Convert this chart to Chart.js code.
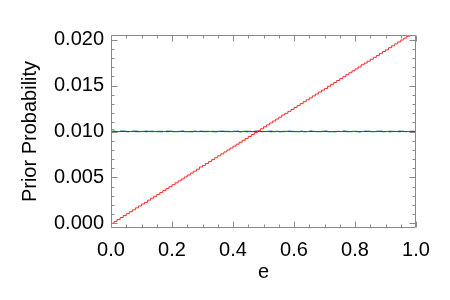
<!DOCTYPE html>
<html><head><meta charset="utf-8">
<script src="https://cdn.jsdelivr.net/npm/chart.js@4/dist/chart.umd.min.js"></script>
<style>html,body{margin:0;padding:0;background:#fff}#wrap{width:450px;height:300px}</style>
</head><body><div id="wrap"><canvas id="c" width="450" height="300"></canvas></div>
<script>
// ---- data ----
const nBins = 100;
const binWidth = 0.01;

const redPrior = [
-0.00020,0.00001,0.00022,0.00043,0.00064,0.00085,0.00106,0.00127,0.00148,0.00169,
0.00190,0.00211,0.00229,0.00253,0.00274,0.00295,0.00316,0.00337,0.00358,0.00379,
0.00400,0.00421,0.00442,0.00463,0.00484,0.00505,0.00526,0.00547,0.00568,0.00589,
0.00614,0.00631,0.00652,0.00673,0.00694,0.00715,0.00736,0.00757,0.00778,0.00799,
0.00820,0.00841,0.00862,0.00883,0.00904,0.00925,0.00946,0.00967,0.00988,0.01009,
0.01030,0.01051,0.01072,0.01093,0.01114,0.01135,0.01156,0.01180,0.01198,0.01219,
0.01240,0.01261,0.01282,0.01303,0.01324,0.01345,0.01366,0.01387,0.01408,0.01429,
0.01450,0.01467,0.01492,0.01513,0.01534,0.01555,0.01576,0.01597,0.01618,0.01639,
0.01660,0.01681,0.01702,0.01726,0.01744,0.01765,0.01786,0.01807,0.01828,0.01849,
0.01870,0.01888,0.01912,0.01933,0.01954,0.01975,0.01996,0.02017,0.02038,0.02059
];
const greenPrior = [
0.01070,0.01022,0.01002,0.00998,0.01003,0.01005,0.00999,0.01001,0.01005,0.00997,
0.01000,0.01003,0.00996,0.01001,0.01005,0.00998,0.00996,0.01003,0.01000,0.00997,
0.01004,0.01001,0.00996,0.00999,0.01003,0.01000,0.00996,0.01001,0.01004,0.00998,
0.01000,0.00997,0.01003,0.01001,0.00996,0.00999,0.01004,0.01000,0.00998,0.01003,
0.00997,0.01001,0.01000,0.00996,0.01003,0.01005,0.00999,0.00997,0.01001,0.01000,
0.01003,0.00998,0.01001,0.00996,0.01000,0.01004,0.00999,0.00997,0.01003,0.01000,
0.00998,0.01001,0.00996,0.01003,0.01000,0.00998,0.01004,0.00999,0.01000,0.00997,
0.01001,0.01003,0.00998,0.00996,0.01001,0.01000,0.00999,0.01004,0.00997,0.01000,
0.01003,0.00998,0.00996,0.01001,0.01000,0.01004,0.00999,0.00997,0.01003,0.01000,
0.00998,0.01001,0.01004,0.00999,0.01000,0.00997,0.01003,0.01000,0.00999,0.01001
];
const bluePrior = [
0.01003,0.01002,0.00998,0.01000,0.01004,0.01002,0.00997,0.01000,0.01002,0.01004,
0.00998,0.01000,0.01004,0.01002,0.00998,0.01000,0.01002,0.00997,0.01000,0.01004,
0.01002,0.00998,0.01000,0.01002,0.01004,0.00998,0.01000,0.00997,0.01002,0.01000,
0.01004,0.01002,0.00998,0.01000,0.01002,0.00997,0.01000,0.01004,0.01002,0.00998,
0.01000,0.01002,0.01004,0.00998,0.01000,0.00997,0.01002,0.01000,0.01004,0.01002,
0.00998,0.01000,0.01002,0.01004,0.00998,0.01000,0.00997,0.01002,0.01000,0.01004,
0.01002,0.00998,0.01000,0.01002,0.00997,0.01000,0.01004,0.01002,0.00998,0.01000,
0.01002,0.01004,0.00998,0.01000,0.00997,0.01002,0.01000,0.01004,0.01002,0.00998,
0.01000,0.01002,0.00997,0.01000,0.01004,0.01002,0.00998,0.01000,0.01002,0.01004,
0.00998,0.01000,0.00997,0.01002,0.01000,0.01004,0.01002,0.00998,0.01000,0.01002
];
const uniformE = [0.0, 1.0];
const uniformPrior = [0.0100, 0.0100];

const xTickValues = [0.0, 0.2, 0.4, 0.6, 0.8, 1.0];
const xTickLabels = ['0.0', '0.2', '0.4', '0.6', '0.8', '1.0'];
const xMinorTicks = [0.05,0.1,0.15,0.25,0.3,0.35,0.45,0.5,0.55,0.65,0.7,0.75,0.85,0.9,0.95];
const yTickValues = [0.000, 0.005, 0.010, 0.015, 0.020];
const yTickLabels = ['0.000', '0.005', '0.010', '0.015', '0.020'];
const yMinorTicks = [0.001,0.002,0.003,0.004,0.006,0.007,0.008,0.009,0.011,0.012,0.013,0.014,0.016,0.017,0.018,0.019];
const xTitle = 'e';
const yTitle = 'Prior Probability';

// ---- build step histogram points (left bin edges, closing point at e=1) ----
function histPoints(vals) {
  const pts = vals.map((v, i) => ({x: i * binWidth, y: v}));
  pts.push({x: nBins * binWidth, y: vals[vals.length - 1]});
  return pts;
}

const FONT = '"Liberation Sans", Arial, Helvetica, sans-serif';

const frameTicks = {
  id: 'frameTicks',
  afterDatasetsDraw(chart) {
    const {ctx, chartArea: {left, right, top, bottom}, scales: {x, y}} = chart;
    ctx.save();
    ctx.strokeStyle = '#8a8a8a';
    ctx.lineWidth = 1;
    ctx.beginPath();
    const L = Math.round(left) + 0.5, R = Math.round(right) - 0.5;
    const T = Math.round(top) + 0.5, B = Math.round(bottom) - 0.5;
    ctx.rect(L, T, R - L, B - T);
    const xt = (v, len) => {
      const px = Math.round(x.getPixelForValue(v)) + 0.5;
      ctx.moveTo(px, B); ctx.lineTo(px, B - len);
      ctx.moveTo(px, T); ctx.lineTo(px, T + len);
    };
    const yt = (v, len) => {
      const py = Math.round(y.getPixelForValue(v)) + 0.5;
      ctx.moveTo(L, py); ctx.lineTo(L + len, py);
      ctx.moveTo(R, py); ctx.lineTo(R - len, py);
    };
    xTickValues.forEach(v => xt(v, 6));
    xMinorTicks.forEach(v => xt(v, 3));
    yTickValues.forEach(v => yt(v, 6));
    yMinorTicks.forEach(v => yt(v, 3));
    ctx.stroke();
    ctx.restore();
  }
};

new Chart(document.getElementById('c'), {
  type: 'line',
  data: {
    datasets: [
      {data: histPoints(redPrior), borderColor: '#ff2a2a', borderWidth: 1, stepped: 'after', pointRadius: 0, fill: false, order: 0},
      {data: histPoints(bluePrior), borderColor: '#3a4cff', borderWidth: 1, stepped: 'after', pointRadius: 0, fill: false, order: 1},
      {data: uniformE.map((e, i) => ({x: e, y: uniformPrior[i]})), borderColor: '#000050', borderWidth: 1, pointRadius: 0, fill: false, order: 2},
      {data: histPoints(greenPrior), borderColor: '#22e022', borderWidth: 1, stepped: 'after', pointRadius: 0, fill: false, order: 3}
    ]
  },
  options: {
    responsive: false,
    animation: false,
    devicePixelRatio: 1,
    layout: {padding: {left: 0, right: 34, top: 35, bottom: 0}},
    plugins: {legend: {display: false}, tooltip: {enabled: false}},
    scales: {
      x: {
        type: 'linear', min: 0, max: 1,
        afterBuildTicks: s => { s.ticks = xTickValues.map(v => ({value: v})); },
        afterFit: s => { s.height = 72; },
        grid: {display: false, drawTicks: false},
        border: {display: false},
        ticks: {
          padding: 10, color: '#000', maxRotation: 0, autoSkip: false,
          font: {family: FONT, size: 20},
          callback: v => { const i = xTickValues.indexOf(v); return i >= 0 ? xTickLabels[i] : ''; }
        },
        title: {display: true, text: xTitle, color: '#000', font: {family: FONT, size: 20}, padding: {top: 0, bottom: 16}}
      },
      y: {
        type: 'linear', min: -0.0005, max: 0.0205,
        afterBuildTicks: s => { s.ticks = yTickValues.map(v => ({value: v})); },
        afterFit: s => { s.width = 111; },
        grid: {display: false, drawTicks: false},
        border: {display: false},
        ticks: {
          padding: 7, color: '#000', autoSkip: false,
          font: {family: FONT, size: 20},
          callback: v => { const i = yTickValues.indexOf(v); return i >= 0 ? yTickLabels[i] : ''; }
        },
        title: {display: true, text: yTitle, color: '#000', font: {family: FONT, size: 20}, padding: {top: 18, bottom: 0}}
      }
    }
  },
  plugins: [frameTicks]
});
</script>
</body></html>
